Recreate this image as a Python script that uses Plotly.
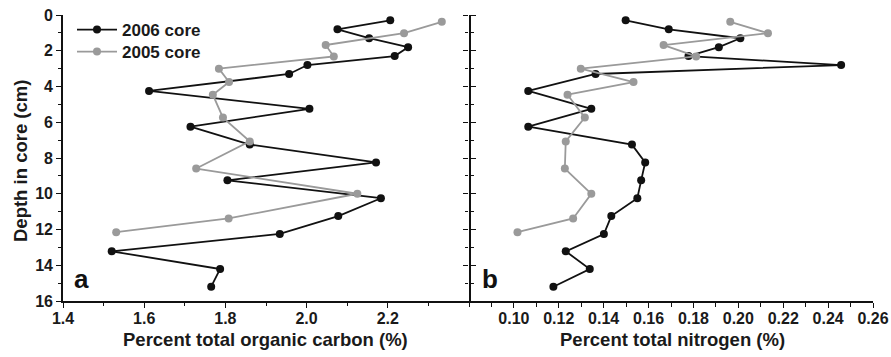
import plotly.graph_objects as go

# ---- data ----
depth_2006 = [0.3, 0.8, 1.3, 1.8, 2.3, 2.8, 3.3, 4.25, 5.25, 6.25, 7.25, 8.25,
              9.25, 10.25, 11.25, 12.25, 13.22, 14.21, 15.2]
carbon_2006 = [2.206, 2.076, 2.154, 2.250, 2.217, 2.002, 1.957, 1.612, 2.007,
               1.714, 1.860, 2.171, 1.805, 2.183, 2.078, 1.934, 1.520, 1.787, 1.765]
nitrogen_2006 = [0.1498, 0.169, 0.2009, 0.1913, 0.1778, 0.2458, 0.1364, 0.1064,
                 0.1345, 0.1064, 0.1526, 0.1585, 0.1567, 0.155, 0.1434, 0.1401,
                 0.1231, 0.1338, 0.1176]

depth_2005 = [0.38, 1.02, 1.68, 2.32, 3.0, 3.75, 4.46, 5.74, 7.07, 8.59, 10.0,
              11.38, 12.15]
carbon_2005 = [2.333, 2.240, 2.047, 2.067, 1.784, 1.809, 1.769, 1.794, 1.860,
               1.728, 2.125, 1.808, 1.531]
nitrogen_2005 = [0.1964, 0.2132, 0.1667, 0.1812, 0.1298, 0.1533, 0.1239, 0.1316,
                 0.1231, 0.1227, 0.1345, 0.1264, 0.1016]

carbon_ticks = [1.4, 1.6, 1.8, 2.0, 2.2]
carbon_labels = ["1.4", "1.6", "1.8", "2.0", "2.2"]
nitrogen_ticks = [0.10, 0.12, 0.14, 0.16, 0.18, 0.20, 0.22, 0.24, 0.26]
nitrogen_labels = ["0.10", "0.12", "0.14", "0.16", "0.18", "0.20", "0.22", "0.24", "0.26"]
depth_ticks = [0, 2, 4, 6, 8, 10, 12, 14, 16]

BLACK = "#111111"
GRAY = "#9a9a9a"
FONT = "Liberation Sans, Arial, sans-serif"

fig = go.Figure()

fig.add_trace(go.Scatter(x=carbon_2006, y=depth_2006, mode="lines+markers",
                         name="2006 core", line=dict(color=BLACK, width=1.8),
                         marker=dict(color=BLACK, size=8), xaxis="x", yaxis="y",
                         legend="legend"))
fig.add_trace(go.Scatter(x=carbon_2005, y=depth_2005, mode="lines+markers",
                         name="2005 core", line=dict(color=GRAY, width=1.8),
                         marker=dict(color=GRAY, size=8), xaxis="x", yaxis="y",
                         legend="legend2"))
fig.add_trace(go.Scatter(x=nitrogen_2006, y=depth_2006, mode="lines+markers",
                         showlegend=False, line=dict(color=BLACK, width=1.8),
                         marker=dict(color=BLACK, size=8), xaxis="x2", yaxis="y2"))
fig.add_trace(go.Scatter(x=nitrogen_2005, y=depth_2005, mode="lines+markers",
                         showlegend=False, line=dict(color=GRAY, width=1.8),
                         marker=dict(color=GRAY, size=8), xaxis="x2", yaxis="y2"))

W, H = 891, 357
ml, mr, mt, mb = 63, 18, 15, 56
pw = W - ml - mr
ph = H - mt - mb
split = (469 - ml) / pw

def px_x(px):
    return (px - ml) / pw

def px_y(py):
    return (H - mb - py) / ph

tickfont = dict(size=16, color="#1a1a1a", family=FONT, weight="bold")
axis_common = dict(showgrid=False, zeroline=False, linecolor=BLACK,
                   linewidth=1.6, ticks="outside", ticklen=5, tickwidth=1.4,
                   tickcolor=BLACK, tickfont=tickfont, automargin=False)

legend_common = dict(xanchor="left", yanchor="middle", bgcolor="rgba(0,0,0,0)",
                     font=dict(size=17, family=FONT, weight="bold"), itemwidth=40)

fig.update_layout(
    width=W, height=H,
    margin=dict(l=ml, r=mr, t=mt, b=mb, autoexpand=False),
    paper_bgcolor="white", plot_bgcolor="white",
    font=dict(family=FONT, size=16, color="#1a1a1a", weight="bold"),
    xaxis=dict(domain=[0, split], range=[1.4, 2.4], tickvals=carbon_ticks,
               ticktext=carbon_labels, anchor="y", showline=True, ticklabelstandoff=-3,
               minor=dict(dtick=0.1, tick0=1.4, ticks="outside", ticklen=3,
                          tickwidth=1.2, tickcolor=BLACK),
               **axis_common),
    yaxis=dict(domain=[0, 1], range=[16, 0], tickvals=depth_ticks, anchor="x",
               mirror="ticks", showline=True,
               minor=dict(dtick=1, tick0=0, ticks="outside", ticklen=3,
                          tickwidth=1.2, tickcolor=BLACK),
               **axis_common),
    xaxis2=dict(domain=[split, 1], range=[0.08, 0.26], tickvals=nitrogen_ticks,
                ticktext=nitrogen_labels, anchor="y2", showline=True, ticklabelstandoff=-3,
                minor=dict(dtick=0.01, tick0=0.08, ticks="outside", ticklen=4,
                           tickwidth=1.2, tickcolor=BLACK),
                **axis_common),
    yaxis2=dict(domain=[0, 1], range=[16, 0], tickvals=depth_ticks, anchor="x2",
                showticklabels=False, showline=False,
                minor=dict(dtick=1, tick0=0, ticks="outside", ticklen=3,
                           tickwidth=1.2, tickcolor=BLACK),
                **axis_common),
    legend=dict(x=px_x(72), y=px_y(30), **legend_common),
    legend2=dict(x=px_x(72), y=px_y(52), **legend_common),
    showlegend=True,
)

annotations = [
    dict(text="Percent total organic carbon (%)", x=px_x(265), y=px_y(340),
         xref="paper", yref="paper", showarrow=False, xanchor="center", yanchor="middle",
         font=dict(size=18.5, family=FONT, weight="bold")),
    dict(text="Percent total nitrogen (%)", x=px_x(672), y=px_y(340),
         xref="paper", yref="paper", showarrow=False, xanchor="center", yanchor="middle",
         font=dict(size=18.5, family=FONT, weight="bold")),
    dict(text="Depth in core (cm)", x=px_x(21), y=px_y(161), textangle=-90,
         xref="paper", yref="paper", showarrow=False, xanchor="center", yanchor="middle",
         font=dict(size=18.5, family=FONT, weight="bold")),
    dict(text="a", x=px_x(81), y=px_y(279), xref="paper", yref="paper",
         showarrow=False, xanchor="center", yanchor="middle",
         font=dict(size=26, family=FONT, weight="bold", color=BLACK)),
    dict(text="b", x=px_x(490), y=px_y(279), xref="paper", yref="paper",
         showarrow=False, xanchor="center", yanchor="middle",
         font=dict(size=26, family=FONT, weight="bold", color=BLACK)),
]
fig.update_layout(annotations=annotations)

fig.write_html("out.html", config={"displayModeBar": False},
               post_script="document.body.style.margin='0';document.body.style.overflow='hidden';")
